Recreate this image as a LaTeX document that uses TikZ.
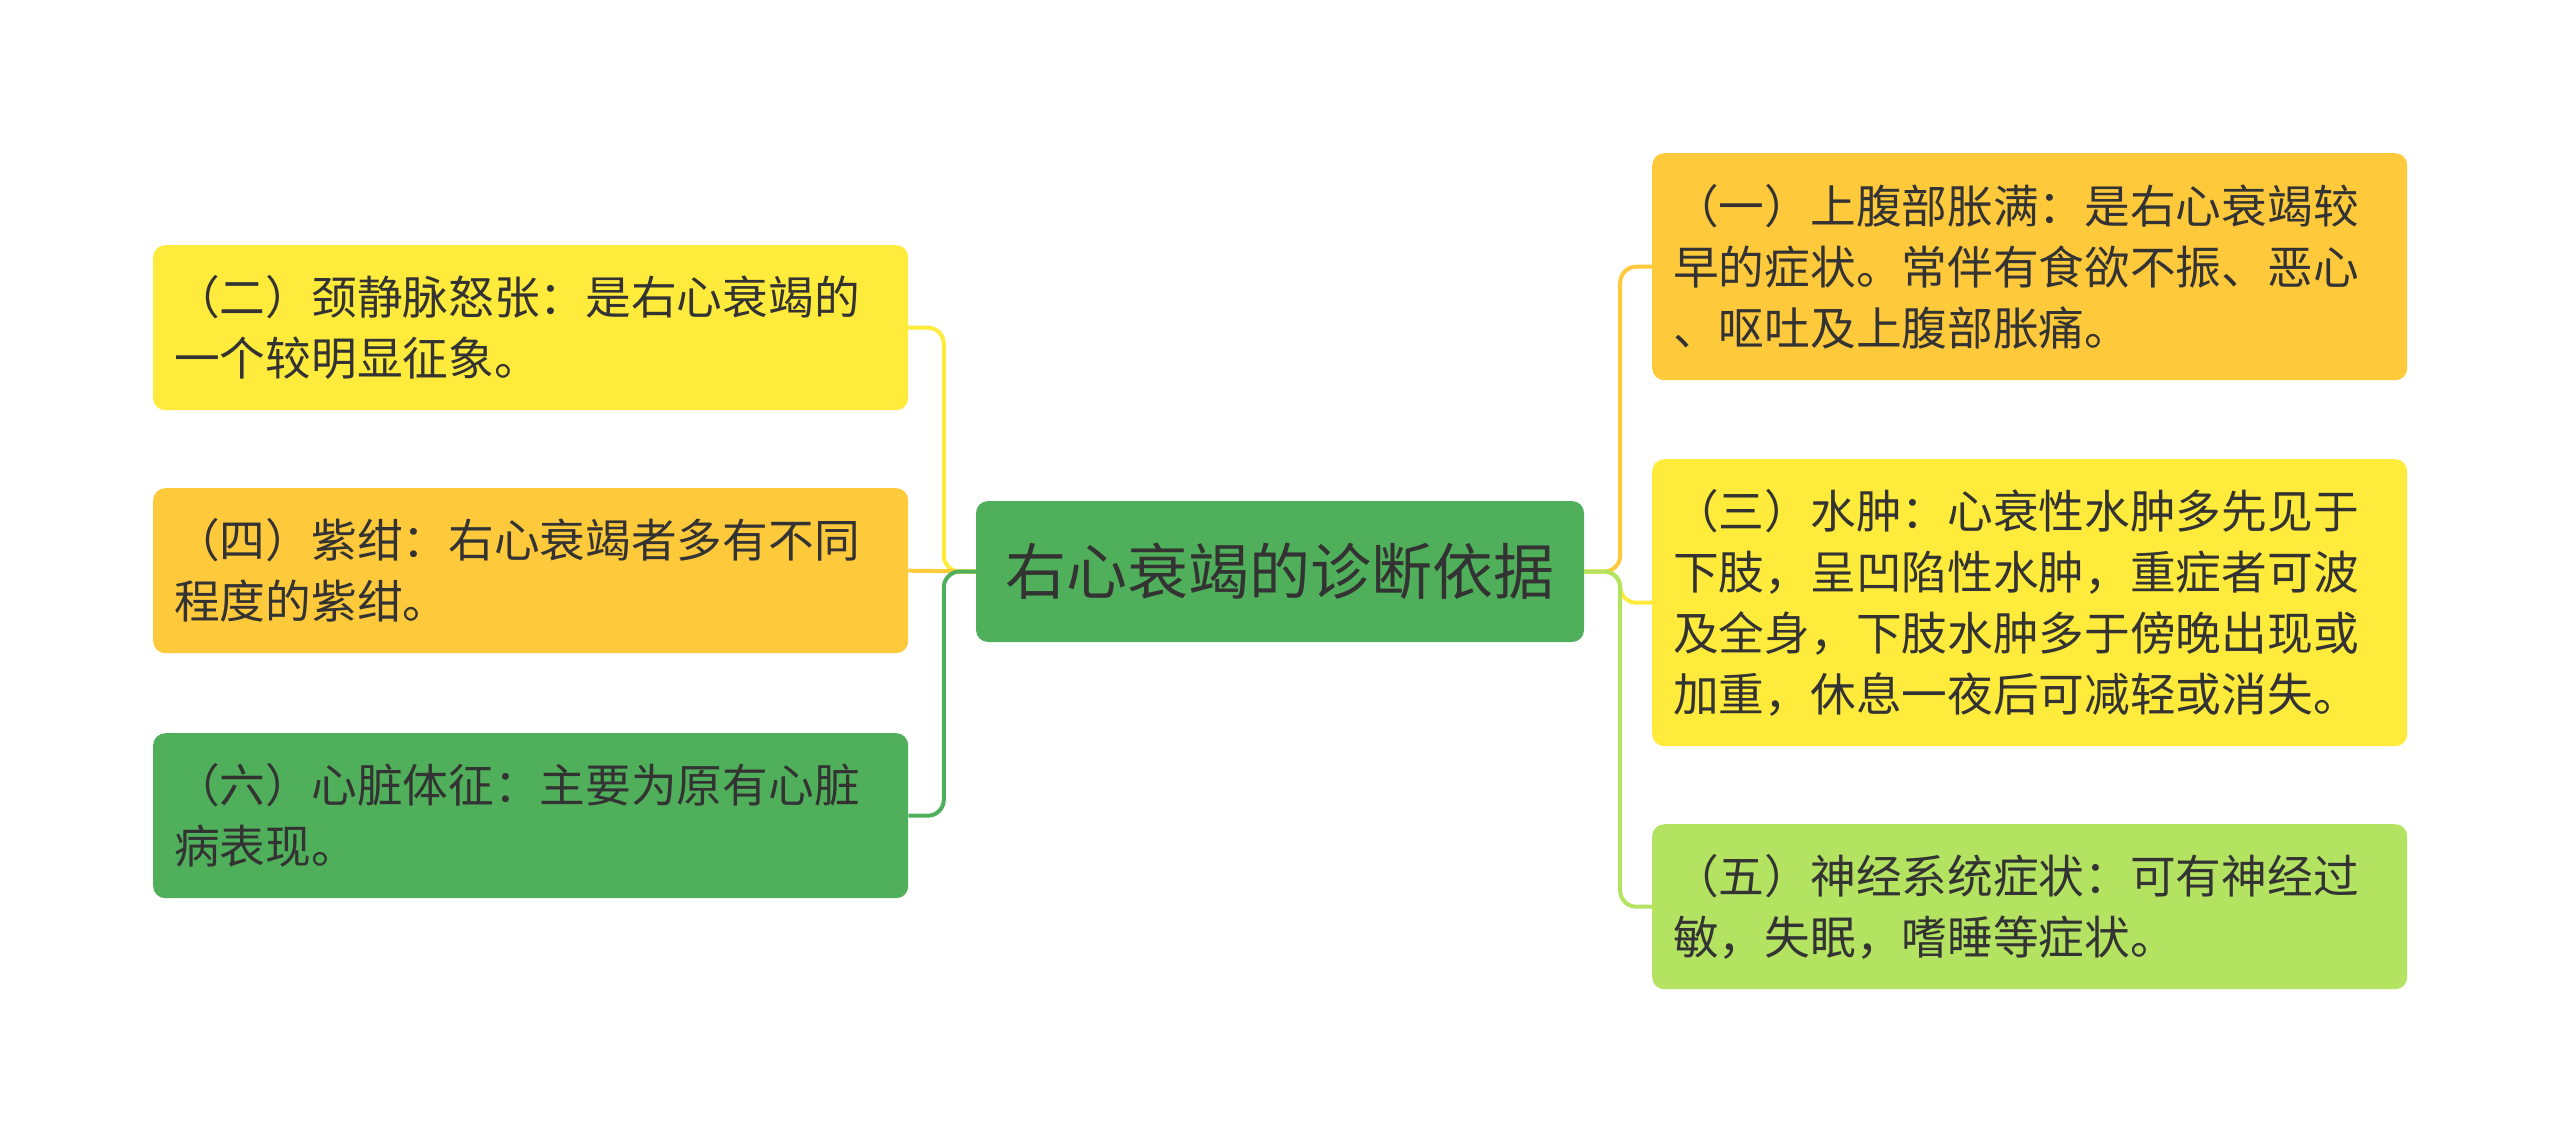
\documentclass[tikz,border=0pt]{standalone}
\usepackage{fontspec}
\setmainfont{Noto Sans CJK SC}
\definecolor{cyel}{HTML}{FFEB3B}
\definecolor{corg}{HTML}{FFC93C}
\definecolor{cgrn}{HTML}{50AF5A}
\definecolor{clgr}{HTML}{B4E362}
\definecolor{txt}{HTML}{333333}
\begin{document}
\begin{tikzpicture}[x=1pt,y=-1pt]
\tikzset{
  leaf/.style={rounded corners=12pt, text width=713pt, inner xsep=21pt, inner ysep=0pt,
    minimum width=755pt, align=left, font=\fontsize{45.7}{61}\selectfont, text=txt,
    anchor=north west},
  hub/.style={rounded corners=12pt, fill=cgrn, minimum width=608pt, minimum height=141pt,
    inner sep=0pt, font=\fontsize{61}{70}\selectfont, text=txt},
  link/.style={line width=4pt, rounded corners=16pt}
}
\useasboundingbox (0,0) rectangle (2560,1143);
\node[hub] (c) at (1280,571.5) {右心衰竭的诊断依据};
% left
\node[leaf, fill=cyel, minimum height=165pt] (n2) at (153,245) {（二）颈静脉怒张：是右心衰竭的\\一个较明显征象。};
\node[leaf, fill=corg, minimum height=165pt] (n4) at (153,488) {（四）紫绀：右心衰竭者多有不同\\程度的紫绀。};
\node[leaf, fill=cgrn, minimum height=165pt] (n6) at (153,733) {（六）心脏体征：主要为原有心脏\\病表现。};
% right
\node[leaf, fill=corg, minimum height=227pt] (n1) at (1652,153) {（一）上腹部胀满：是右心衰竭较\\早的症状。常伴有食欲不振、恶心\\、呕吐及上腹部胀痛。};
\node[leaf, fill=cyel, minimum height=287pt] (n3) at (1652,459) {（三）水肿：心衰性水肿多先见于\\下肢，呈凹陷性水肿，重症者可波\\及全身，下肢水肿多于傍晚出现或\\加重，休息一夜后可减轻或消失。};
\node[leaf, fill=clgr, minimum height=165pt] (n5) at (1652,824) {（五）神经系统症状：可有神经过\\敏，失眠，嗜睡等症状。};
% connectors left
\draw[link, cyel] (c.west) -- ([xshift=-32pt]c.west) |- (n2.east);
\draw[link, corg] (c.west) -- (n4.east);
\draw[link, cgrn] (c.west) -- ([xshift=-32pt]c.west) |- (n6.east);
% connectors right
\draw[link, corg] (c.east) -- ([xshift=36pt]c.east) |- (n1.west);
\draw[link, cyel] (c.east) -- ([xshift=36pt]c.east) |- (n3.west);
\draw[link, clgr] (c.east) -- ([xshift=36pt]c.east) |- (n5.west);
\end{tikzpicture}
\end{document}
